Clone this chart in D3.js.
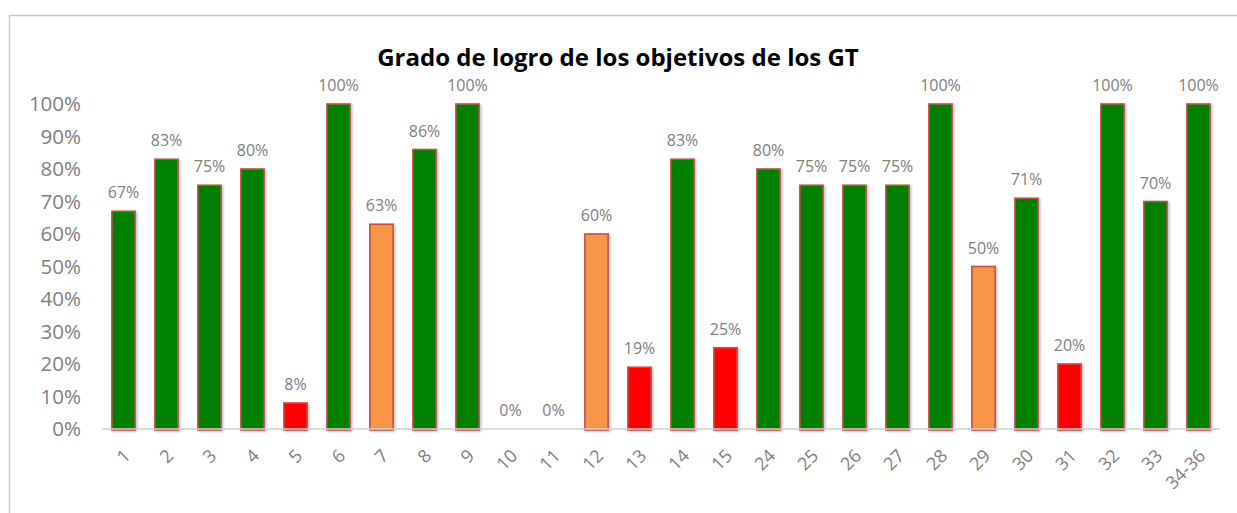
<!DOCTYPE html>
<html>
<head>
<meta charset="utf-8">
<script src="https://cdn.jsdelivr.net/npm/d3@7"></script>
<style>
  html, body { margin: 0; padding: 0; background: #fff; }
  svg { display: block; }
  text { font-family: "Open Sans", "Noto Sans", sans-serif; }
</style>
</head>
<body>
<svg id="chart" width="1237" height="513"></svg>
<script>
const categories = ["1","2","3","4","5","6","7","8","9","10","11","12","13","14","15","24","25","26","27","28","29","30","31","32","33","34-36"];
const values = [0.67,0.83,0.75,0.80,0.08,1.00,0.63,0.86,1.00,0,0,0.60,0.19,0.83,0.25,0.80,0.75,0.75,0.75,1.00,0.50,0.71,0.20,1.00,0.70,1.00];
const valueLabels = ["67%","83%","75%","80%","8%","100%","63%","86%","100%","0%","0%","60%","19%","83%","25%","80%","75%","75%","75%","100%","50%","71%","20%","100%","70%","100%"];
const yTicks = [0,0.1,0.2,0.3,0.4,0.5,0.6,0.7,0.8,0.9,1.0];
const title = "Grado de logro de los objetivos de los GT";

const svg = d3.select("#chart");
const m = { left: 102, right: 1220, top: 104, bottom: 429 };

// chart border
svg.append("rect").attr("x", 9.5).attr("y", 15.5).attr("width", 1300).attr("height", 600)
  .attr("fill", "none").attr("stroke", "#c8c8c8").attr("stroke-width", 1.5);

const defs = svg.append("defs");
const f = defs.append("filter").attr("id", "sh").attr("x", "-30%").attr("y", "-10%").attr("width", "160%").attr("height", "130%");
f.append("feDropShadow").attr("dx", 1.5).attr("dy", 1).attr("stdDeviation", 1.2).attr("flood-color", "#000").attr("flood-opacity", 0.25);

const x = d3.scaleBand().domain(categories).range([m.left, m.right]).paddingInner(0.46).paddingOuter(0.23);
const y = d3.scaleLinear().domain([0, 1]).range([m.bottom, m.top]);
const color = d3.scaleThreshold().domain([0.4, 0.65]).range(["#ff0000", "#f79646", "#008000"]);

// title
svg.append("text").attr("x", 618).attr("y", 66).attr("text-anchor", "middle")
  .attr("font-size", 24).attr("font-weight", "bold").attr("fill", "#000").text(title);

// y axis
const yAxis = d3.axisLeft(y).tickValues(yTicks).tickFormat(d3.format(".0%")).tickSize(0).tickPadding(0);
const ya = svg.append("g").attr("transform", "translate(81,0)").call(yAxis);
ya.select(".domain").remove();
ya.selectAll("text").attr("font-size", 20.5).attr("fill", "#808080").attr("font-family", "'Open Sans', sans-serif");

// bars
const data = categories.map((c, i) => ({ c, v: values[i], l: valueLabels[i] }));
svg.append("g").selectAll("rect").data(data.filter(d => d.v > 0)).join("rect")
  .attr("x", d => x(d.c)).attr("width", x.bandwidth())
  .attr("y", d => y(d.v)).attr("height", d => y(0) - y(d.v) + 1)
  .attr("fill", d => color(d.v)).attr("stroke", "#c0504d").attr("stroke-width", 1.6)
  .attr("filter", "url(#sh)");

// baseline
svg.append("line").attr("x1", m.left).attr("x2", m.right).attr("y1", y(0)).attr("y2", y(0))
  .attr("stroke", "#d0d0d0").attr("stroke-width", 1.5);

// value labels
svg.append("g").selectAll("text").data(data).join("text")
  .attr("x", d => x(d.c) + x.bandwidth() / 2).attr("y", d => y(d.v) - 13)
  .attr("text-anchor", "middle").attr("font-size", 16).attr("fill", "#808080").text(d => d.l);

// x axis
const xAxis = d3.axisBottom(x).tickSize(0).tickPadding(0);
const xa = svg.append("g").attr("transform", `translate(0,${y(0)})`).call(xAxis);
xa.select(".domain").remove();
xa.selectAll("text").attr("font-size", 18).attr("fill", "#808080").attr("font-family", "'Open Sans', sans-serif")
  .attr("text-anchor", "end").attr("dy", null).attr("y", 0)
  .attr("transform", "translate(8,28) rotate(-45)");
</script>
</body>
</html>
